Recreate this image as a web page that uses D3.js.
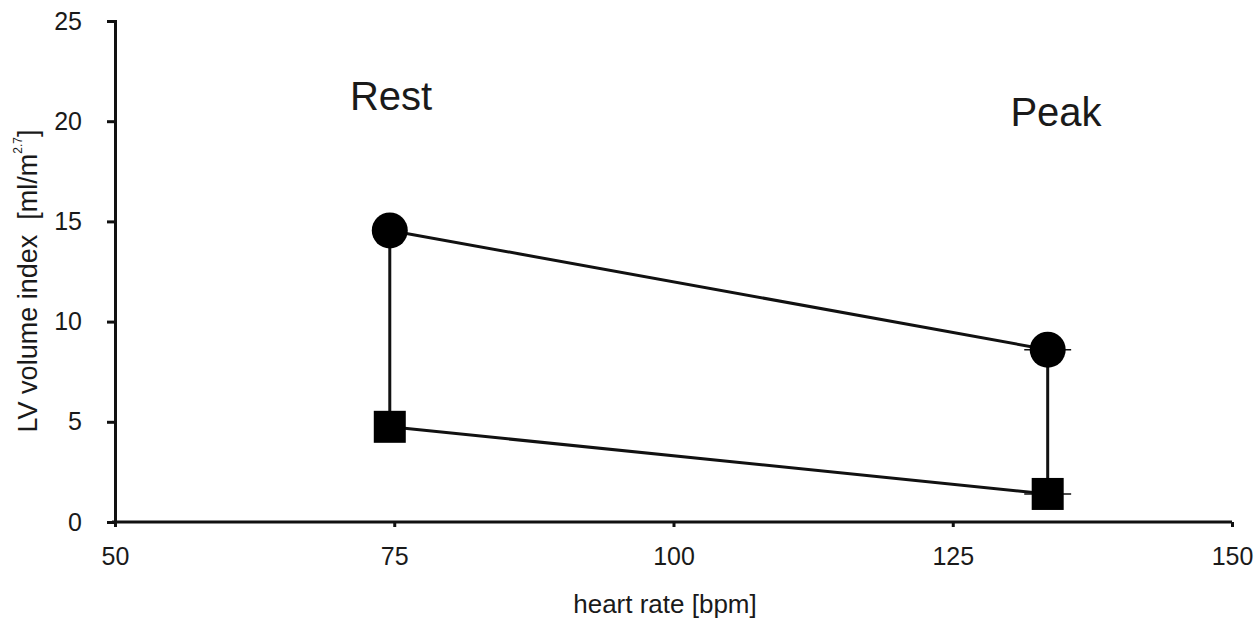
<!DOCTYPE html>
<html><head><meta charset="utf-8">
<script src="https://cdn.jsdelivr.net/npm/d3@7"></script>
<style>body{margin:0;background:#fff}svg{display:block}text{font-family:"Liberation Sans",Arial,sans-serif;fill:#1a1a1a}</style>
</head><body><svg id="c" width="1258" height="623"></svg>
<script>
const phases = ["Rest", "Peak"];
const heartRate = [74.6, 133.5];
const hrErr = [1.0, 2.1];
const edvIndex = [14.55, 8.6];   // circles
const esvIndex = [4.75, 1.4];    // squares
const xTicks = [50, 75, 100, 125, 150];
const yTicks = [0, 5, 10, 15, 20, 25];

const svg = d3.select("#c");
const x = d3.scaleLinear().domain([50, 150]).range([115, 1232]);
const y = d3.scaleLinear().domain([0, 25]).range([522, 21]);
const col = "#111";

// axes
const xAxis = svg.append("g").attr("transform", `translate(0,${y(0)})`)
  .call(d3.axisBottom(x).tickValues(xTicks).tickSize(5).tickPadding(20).tickFormat(d3.format("d")));
const yAxis = svg.append("g").attr("transform", `translate(${x(50)},0)`)
  .call(d3.axisLeft(y).tickValues(yTicks).tickSize(8).tickPadding(25).tickFormat(d3.format("d")));
[xAxis, yAxis].forEach(g => {
  g.select(".domain").attr("stroke", col).attr("stroke-width", 3);
  g.selectAll(".tick line").attr("stroke", col).attr("stroke-width", 3);
  g.selectAll(".tick text").attr("font-size", 25).attr("fill", "#1a1a1a")
    .style("font-family", '"Liberation Sans",Arial,sans-serif');
});
xAxis.select(".domain").attr("d", `M${x(50)-3},0H${x(150)}`);

// error bars (horizontal)
const idx = d3.range(phases.length);
[edvIndex, esvIndex].forEach(vals => {
  svg.append("g").selectAll("line").data(idx).join("line")
    .attr("x1", i => x(heartRate[i] - hrErr[i])).attr("x2", i => x(heartRate[i] + hrErr[i]))
    .attr("y1", i => y(vals[i])).attr("y2", i => y(vals[i]))
    .attr("stroke", col).attr("stroke-width", 1.5);
});

// connecting lines
const line = d3.line().x(d => x(d[0])).y(d => y(d[1]));
const ls = svg.append("g").attr("fill", "none").attr("stroke", col).attr("stroke-width", 3);
ls.append("path").attr("d", line(idx.map(i => [heartRate[i], edvIndex[i]])));
ls.append("path").attr("d", line(idx.map(i => [heartRate[i], esvIndex[i]])));
idx.forEach(i => {
  ls.append("path").attr("d", line([[heartRate[i], edvIndex[i]], [heartRate[i], esvIndex[i]]]));
});

// markers
svg.append("g").selectAll("circle").data(idx).join("circle")
  .attr("cx", i => x(heartRate[i])).attr("cy", i => y(edvIndex[i])).attr("r", 18).attr("fill", "#000");
svg.append("g").selectAll("rect").data(idx).join("rect")
  .attr("x", i => x(heartRate[i]) - 16).attr("y", i => y(esvIndex[i]) - 16)
  .attr("width", 32).attr("height", 32).attr("fill", "#000");

// phase labels
svg.append("text").attr("x", 391).attr("y", 110).attr("text-anchor", "middle").attr("font-size", 40).text(phases[0]);
svg.append("text").attr("x", 1056).attr("y", 126).attr("text-anchor", "middle").attr("font-size", 40).text(phases[1]);

// axis titles
svg.append("text").attr("x", 665).attr("y", 613).attr("text-anchor", "middle").attr("font-size", 26).text("heart rate [bpm]");
const yt = svg.append("text").attr("transform", "translate(37,281) rotate(-90)").attr("text-anchor", "middle").attr("font-size", 27);
yt.append("tspan").text("LV volume index  [ml/m");
yt.append("tspan").attr("font-size", 12).attr("dy", -15).text("2.7");
yt.append("tspan").attr("dy", 15).text("]");
yt.style("white-space", "pre");
</script></body></html>
